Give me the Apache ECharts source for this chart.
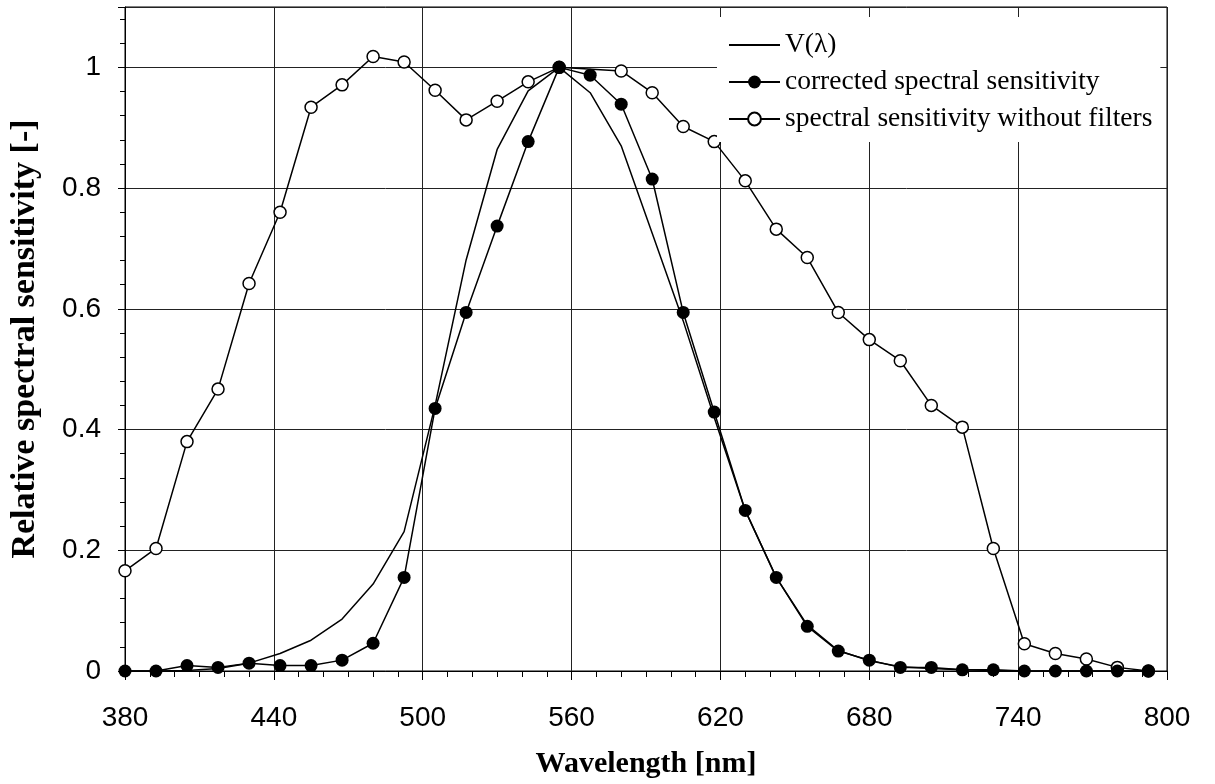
<!DOCTYPE html>
<html>
<head>
<meta charset="utf-8">
<script src="https://cdn.jsdelivr.net/npm/echarts@6/dist/echarts.min.js"></script>
<style>
  html, body { margin: 0; padding: 0; background: #fff; }
  #chart { width: 1215px; height: 784px; }
</style>
</head>
<body>
<div id="chart"></div>
<script>
// ---- data ----
const wavelengths = [380, 392.5, 405, 417.5, 430, 442.5, 455, 467.5, 480, 492.5, 505, 517.5, 530, 542.5, 555, 567.5, 580, 592.5, 605, 617.5, 630, 642.5, 655, 667.5, 680, 692.5, 705, 717.5, 730, 742.5, 755, 767.5, 780, 792.5];
const vLambda = [0.000, 0.000, 0.001, 0.004, 0.013, 0.029, 0.051, 0.086, 0.144, 0.231, 0.440, 0.681, 0.864, 0.961, 1.000, 0.958, 0.870, 0.725, 0.580, 0.420, 0.266, 0.155, 0.076, 0.034, 0.017, 0.007, 0.004, 0.002, 0.001, 0.000, 0.000, 0.000, 0.000, 0.000];
const corrected = [0.000, 0.000, 0.009, 0.006, 0.013, 0.009, 0.009, 0.018, 0.046, 0.155, 0.435, 0.594, 0.737, 0.877, 1.000, 0.987, 0.939, 0.815, 0.594, 0.429, 0.266, 0.155, 0.074, 0.033, 0.018, 0.006, 0.006, 0.002, 0.002, 0.000, 0.000, 0.000, 0.000, 0.000];
const withoutFilters = [0.166, 0.203, 0.380, 0.467, 0.642, 0.760, 0.934, 0.971, 1.018, 1.009, 0.962, 0.913, 0.944, 0.976, 1.000, null, 0.994, 0.958, 0.902, 0.877, 0.812, 0.732, 0.685, 0.594, 0.549, 0.514, 0.440, 0.404, 0.203, 0.045, 0.029, 0.020, 0.006, 0.000];
const seriesNames = ['V(λ)', 'corrected spectral sensitivity', 'spectral sensitivity without filters'];
const xTitle = 'Wavelength [nm]';
const yTitle = 'Relative spectral sensitivity [-]';

const pairs = (ys) => wavelengths.map((x, i) => [x, ys[i]]);

const serif = 'Liberation Serif';
const sans = 'Liberation Sans';
const gridColor = '#222';

const chart = echarts.init(document.getElementById('chart'), null, { renderer: 'canvas' });
chart.setOption({
  animation: false,
  backgroundColor: '#fff',
  grid: { left: 125, right: 48, top: 7, bottom: 112, show: true, borderColor: '#000', borderWidth: 1, backgroundColor: 'transparent' },
  legend: {
    orient: 'vertical',
    left: 717, top: 17,
    padding: [14, 8, 9, 11],
    backgroundColor: '#fff',
    itemWidth: 51, itemHeight: 16, itemGap: 9, itemTextGap: 8,
    textStyle: { fontFamily: serif, fontSize: 27.5, lineHeight: 28, color: '#000' },
    data: [
      { name: seriesNames[0], itemStyle: { opacity: 0 } },
      { name: seriesNames[1] },
      { name: seriesNames[2] }
    ]
  },
  xAxis: {
    type: 'value', min: 380, max: 800, interval: 60,
    name: xTitle, nameLocation: 'middle', nameGap: 78,
    nameTextStyle: { fontFamily: serif, fontWeight: 'bold', fontSize: 30, color: '#000' },
    axisLine: { show: true, lineStyle: { color: '#000', width: 1 } },
    axisTick: { show: true, inside: false, length: 9, lineStyle: { color: '#000' } },
    minorTick: { show: true, splitNumber: 6, length: 6, lineStyle: { color: '#000' } },
    axisLabel: { fontFamily: sans, fontSize: 28, color: '#000', margin: 33 },
    splitLine: { show: true, lineStyle: { color: gridColor, width: 1 } }
  },
  yAxis: [{
    type: 'value', min: 0, max: 1.1, interval: 0.2,
    name: yTitle, nameLocation: 'middle', nameGap: 83,
    nameTextStyle: { fontFamily: serif, fontWeight: 'bold', fontSize: 34, color: '#000' },
    axisLine: { show: true, lineStyle: { color: '#000', width: 1 } },
    axisTick: { show: true, inside: false, length: 7, lineStyle: { color: '#000' } },
    axisLabel: { fontFamily: sans, fontSize: 28, color: '#000', margin: 24,
      formatter: (v) => (v > 1.05 ? '' : String(Math.round(v * 10) / 10)) },
    splitLine: { show: true, lineStyle: { color: gridColor, width: 1 } }
  }, {
    type: 'value', min: 0, max: 1.1, interval: 0.04, position: 'left', offset: 0,
    axisLine: { show: false },
    axisTick: { show: true, inside: false, length: 5, lineStyle: { color: '#000' } },
    axisLabel: { show: false },
    splitLine: { show: false }
  }],
  series: [
    {
      name: seriesNames[0], type: 'line', data: pairs(vLambda), yAxisIndex: 0,
      symbol: 'none', lineStyle: { color: '#000', width: 1.5 }, itemStyle: { color: '#000' }, z: 2
    },
    {
      name: seriesNames[2], type: 'line', data: pairs(withoutFilters), yAxisIndex: 0, connectNulls: true,
      symbol: 'circle', symbolSize: 12, showAllSymbol: true,
      lineStyle: { color: '#000', width: 1.5 },
      itemStyle: { color: '#fff', borderColor: '#000', borderWidth: 1.5 }, z: 3
    },
    {
      name: seriesNames[1], type: 'line', data: pairs(corrected), yAxisIndex: 0,
      symbol: 'circle', symbolSize: 13, showAllSymbol: true,
      lineStyle: { color: '#000', width: 1.5 },
      itemStyle: { color: '#000', borderColor: '#000', borderWidth: 0 }, z: 4
    }
  ]
});
</script>
</body>
</html>
